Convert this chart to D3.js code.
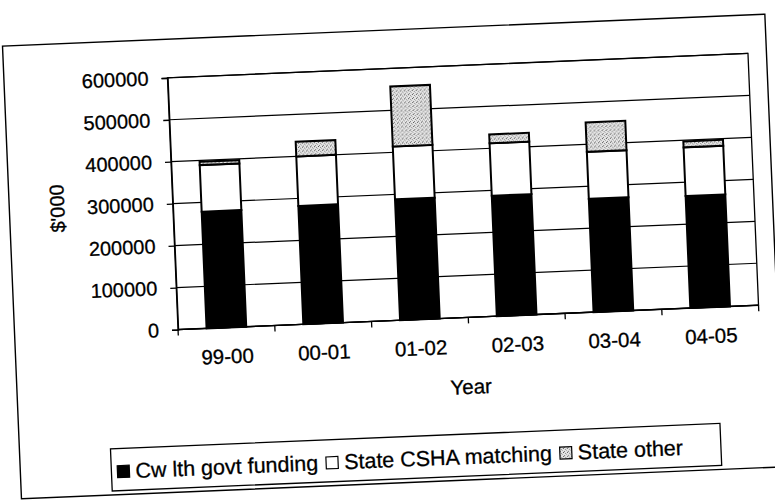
<!DOCTYPE html>
<html>
<head>
<meta charset="utf-8">
<script src="https://cdn.jsdelivr.net/npm/d3@7"></script>
<style>
  body { margin: 0; background: #fff; }
  svg { display: block; }
  text { font-family: "Liberation Sans", Arial, sans-serif; fill: #000; stroke: #000; stroke-width: 0.3; }
</style>
</head>
<body>
<svg id="chart" width="775" height="500"></svg>
<script>
// Funding by financial year ($'000)
const years = ["99-00", "00-01", "01-02", "02-03", "03-04", "04-05"];
const cwlthFunding = [278000, 282000, 288000, 287000, 270000, 267000];
const stateCshaMatching = [111000, 118000, 126000, 125000, 112000, 116000];
const stateOther = [8000, 35000, 143000, 21000, 70000, 14000];
const seriesNames = ["Cw lth govt funding", "State CSHA matching", "State other"];
const yTicks = [0, 100000, 200000, 300000, 400000, 500000, 600000];

const table = years.map((year, i) => ({
  year,
  cwlth: cwlthFunding[i],
  csha: stateCshaMatching[i],
  other: stateOther[i]
}));
const keys = ["cwlth", "csha", "other"];

const plot = { left: 172.5, right: 753.5, top: 65.5, bottom: 317.5 };
const svg = d3.select("#chart");

// light stippled fill for "State other"
const defs = svg.append("defs");
const pat = defs.append("pattern").attr("id", "stipple")
  .attr("patternUnits", "userSpaceOnUse").attr("width", 4).attr("height", 4);
pat.append("rect").attr("width", 4).attr("height", 4).attr("fill", "#e6e6e6");
[[0, 0, "#555"], [2, 1, "#8a8a8a"], [1, 3, "#777"], [3, 2, "#aaa"]].forEach(([x, y, c]) =>
  pat.append("rect").attr("x", x).attr("y", y).attr("width", 1).attr("height", 1).attr("fill", c));

const fills = { cwlth: "#000", csha: "#fff", other: "url(#stipple)" };

// the whole sheet sits slightly tilted
const g = svg.append("g").attr("transform", "rotate(-2.4 463 191.5)");

// outer chart frame
g.append("rect").attr("x", 9).attr("y", 27).attr("width", 763).attr("height", 453)
  .attr("fill", "#fff").attr("stroke", "#000").attr("stroke-width", 1.4);

const x = d3.scaleBand().domain(years).range([plot.left, plot.right])
  .paddingInner(0.59).paddingOuter(0.295);
const y = d3.scaleLinear().domain([0, 600000]).range([plot.bottom, plot.top]);

// gridlines
g.append("g").selectAll("line").data(yTicks).join("line")
  .attr("x1", plot.left).attr("x2", plot.right)
  .attr("y1", d => y(d)).attr("y2", d => y(d))
  .attr("stroke", "#000").attr("stroke-width", 1.2);

// plot area border
g.append("rect").attr("x", plot.left).attr("y", plot.top)
  .attr("width", plot.right - plot.left).attr("height", plot.bottom - plot.top)
  .attr("fill", "none").attr("stroke", "#000").attr("stroke-width", 1.3);

// y axis
const yAxis = g.append("g").attr("transform", `translate(${plot.left},0)`)
  .call(d3.axisLeft(y).tickValues(yTicks).tickSize(6).tickPadding(13).tickFormat(d3.format("d")));
yAxis.select(".domain").attr("stroke", "#000").attr("stroke-width", 1.4);
yAxis.selectAll(".tick line").attr("stroke", "#000").attr("stroke-width", 1.3);
yAxis.selectAll(".tick text").attr("font-size", 20).attr("font-family", "Liberation Sans, Arial, sans-serif");

// x axis: ticks at category boundaries, labels centred under bars
const step = x.step();
const xAxis = g.append("g");
xAxis.append("line").attr("x1", plot.left).attr("x2", plot.right)
  .attr("y1", plot.bottom).attr("y2", plot.bottom).attr("stroke", "#000").attr("stroke-width", 1.4);
xAxis.selectAll("line.tick").data(d3.range(years.length + 1)).join("line").attr("class", "tick")
  .attr("x1", i => plot.left + i * step).attr("x2", i => plot.left + i * step)
  .attr("y1", plot.bottom).attr("y2", plot.bottom + 6).attr("stroke", "#000").attr("stroke-width", 1.3);
xAxis.selectAll("text").data(years).join("text")
  .attr("x", d => x(d) + x.bandwidth() / 2).attr("y", plot.bottom + 36)
  .attr("text-anchor", "middle").attr("font-size", 20.5).text(d => d);

// axis titles
g.append("text").attr("x", (plot.left + plot.right) / 2).attr("y", 394)
  .attr("text-anchor", "middle").attr("font-size", 20.5).text("Year");
g.append("text").attr("transform", `translate(64,${(plot.top + plot.bottom) / 2}) rotate(-90)`)
  .attr("text-anchor", "middle").attr("font-size", 20).text("$'000");

// stacked bars
const stacked = d3.stack().keys(keys)(table);
g.append("g").selectAll("g").data(stacked).join("g")
  .attr("fill", s => fills[s.key])
  .selectAll("rect").data(s => s).join("rect")
  .attr("x", d => x(d.data.year)).attr("width", x.bandwidth())
  .attr("y", d => y(d[1])).attr("height", d => y(d[0]) - y(d[1]))
  .attr("stroke", "#000").attr("stroke-width", 2);

// legend
const legend = g.append("g");
legend.append("rect").attr("x", 100).attr("y", 434).attr("width", 610).attr("height", 42)
  .attr("fill", "#fff").attr("stroke", "#000").attr("stroke-width", 1.3);
let lx = 106;
keys.forEach((k, i) => {
  legend.append("rect").attr("x", lx).attr("y", 451).attr("width", 12).attr("height", 12)
    .attr("fill", fills[k]).attr("stroke", "#000").attr("stroke-width", 1.2);
  const t = legend.append("text").attr("x", lx + 18).attr("y", 464).attr("font-size", 21.5).text(seriesNames[i]);
  lx += 18 + t.node().getComputedTextLength() + 8;
});
</script>
</body>
</html>
